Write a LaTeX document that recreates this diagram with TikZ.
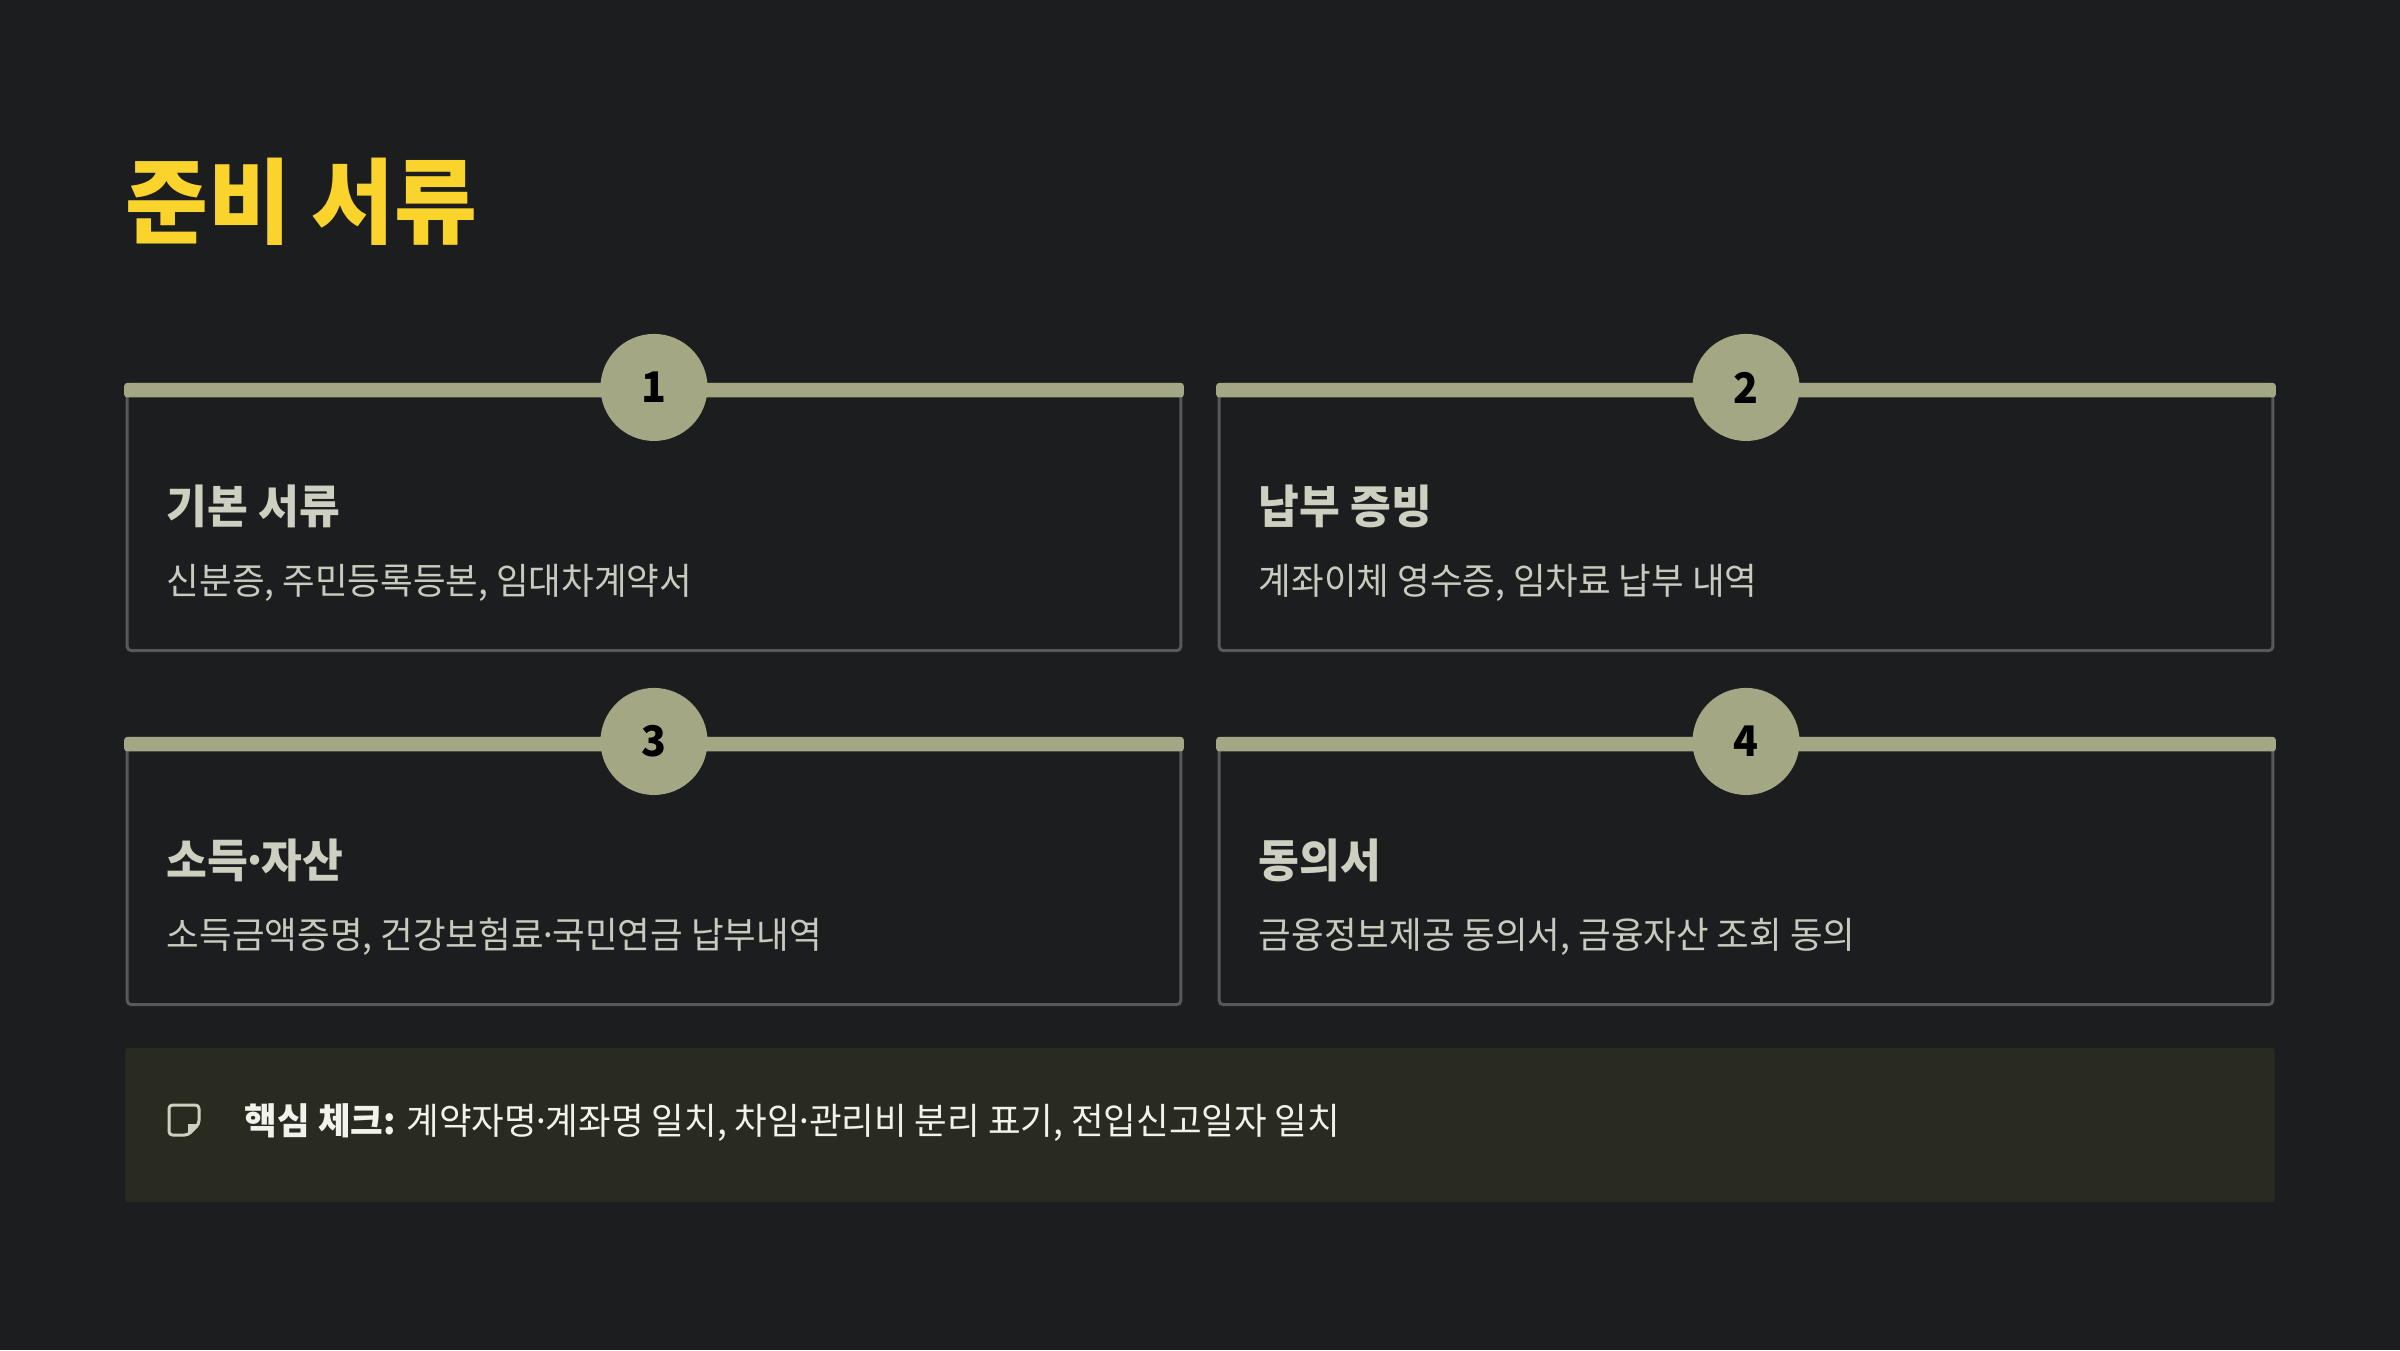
\documentclass[tikz,border=0pt]{standalone}
\usepackage{fontspec}
\setmainfont{Noto Sans CJK KR}[FakeStretch=0.97]
\usepackage{tikz}
\usetikzlibrary{positioning}
\definecolor{pagebg}{RGB}{28,29,31}
\definecolor{cardedge}{RGB}{86,88,91}
\definecolor{sage}{RGB}{163,167,131}
\definecolor{titleyellow}{RGB}{250,212,45}
\definecolor{headgray}{RGB}{205,207,192}
\definecolor{bodygray}{RGB}{200,202,190}
\definecolor{notebg}{RGB}{42,43,32}
\definecolor{notetext}{RGB}{242,242,236}
% narrow middle dot
\newcommand{\mdot}{\kern-.15em·\kern-.15em}

\tikzset{
  cardbox/.style={draw=cardedge, line width=0.3mm, rounded corners=0.4mm,
    minimum width=10.53cm, minimum height=2.66cm, inner sep=0},
  numdot/.style={circle, fill=sage, minimum size=1.07cm, inner sep=0,
    font=\fontsize{12}{14}\selectfont\bfseries, text=black},
  headtext/.style={anchor=west, inner sep=0, text=headgray,
    font=\fontsize{13}{16}\selectfont\bfseries},
  bodytext/.style={anchor=west, inner sep=0, text=bodygray,
    font=\fontsize{10.4}{13}\selectfont}
}

\begin{document}
\begin{tikzpicture}[x=0.01cm, y=-0.01cm]
  % Page
  \fill[pagebg] (0,0) rectangle (2400,1350);

  % Title
  \node[anchor=west, inner sep=0, text=titleyellow,
    font=\fontsize{26.4}{30}\selectfont\bfseries] (title) at (125,202) {준비 서류};

  % Cards
  \foreach \i/\cx/\cy/\head/\body in {
      1/654/517.5/{기본 서류}/{신분증, 주민등록등본, 임대차계약서},
      2/1746/517.5/{납부 증빙}/{계좌이체 영수증, 임차료 납부 내역},
      3/654/871.5/{소득\mdot 자산}/{소득금액증명, 건강보험료\mdot 국민연금 납부내역},
      4/1746/871.5/{동의서}/{금융정보제공 동의서, 금융자산 조회 동의}} {
    \node[cardbox] (card\i) at (\cx,\cy) {};
    \fill[sage, rounded corners=0.3mm]
      ([xshift=-0.015cm]card\i.north west) rectangle ([xshift=0.015cm, yshift=-0.145cm]card\i.north east);
    \node[numdot] (num\i) at ([yshift=-0.045cm]card\i.north) {\i};
    \node[headtext] (head\i) at ([xshift=0.405cm, yshift=-1.235cm]card\i.north west) {\head};
    \node[bodytext] (body\i) at ([xshift=0.405cm, yshift=-2.0cm]card\i.north west) {\body};
  }

  % Key check note
  \node[fill=notebg, rounded corners=0.3mm, minimum width=21.48cm,
    minimum height=1.54cm, inner sep=0] (note) at (1200,1125) {};
  \draw[headgray, line width=0.3mm, rounded corners=0.35mm, line join=round]
    (169,1105) -- (199,1105) -- (199,1124) -- (188,1135) -- (169,1135) -- cycle;
  \fill[headgray] (199,1124) -- (188,1124) -- (188,1135) -- cycle;
  \node[anchor=west, inner sep=0, text=notetext,
    font=\fontsize{10.4}{13}\selectfont] (notetxt) at (244,1123)
    {\textbf{핵심 체크:} 계약자명\mdot 계좌명 일치, 차임\mdot 관리비 분리 표기, 전입신고일자 일치};
\end{tikzpicture}
\end{document}
